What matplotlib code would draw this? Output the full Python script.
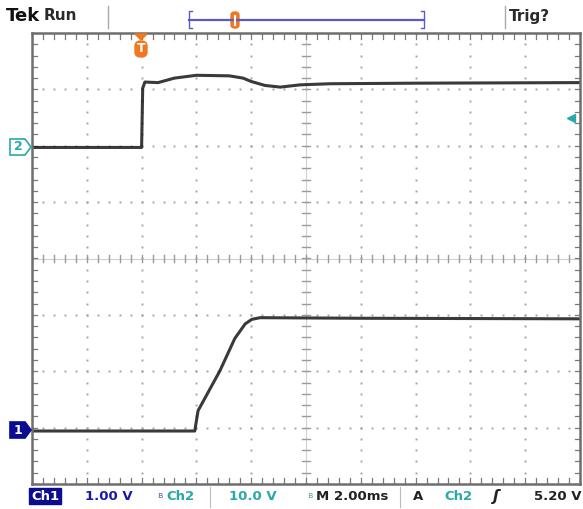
import numpy as np
import matplotlib.pyplot as plt
from matplotlib.patches import Polygon, FancyBboxPatch

# Tektronix の画面 (横 10 div, 縦 8 div, 2.00ms/div)
W, H = 583, 509

# Ch2 (10.0 V/div) : 位置は div 単位 (中央 = 0)
ch2_t = [0.0, 2.0, 2.02, 2.06, 2.3, 2.6, 3.0, 3.6, 3.85, 4.0, 4.25, 4.53, 4.89, 5.44, 7.0, 10.0]
ch2_v = [1.97, 1.97, 3.02, 3.13, 3.12, 3.2, 3.25, 3.24, 3.2, 3.14, 3.07, 3.04, 3.08, 3.1, 3.11, 3.12]

# Ch1 (1.00 V/div)
ch1_t = [0.0, 2.97, 3.03, 3.16, 3.43, 3.70, 3.89, 4.01, 4.16, 6.0, 10.0]
ch1_v = [-3.06, -3.06, -2.70, -2.47, -1.99, -1.42, -1.16, -1.08, -1.05, -1.06, -1.07]

ch1_color = '#0c0c90'
ch2_color = '#2aa8a8'
trig_color = '#f07820'
grat_color = '#a4a4a4'


def fx(x):
    return x / W


def fy(y):
    return 1 - y / H


fig = plt.figure(figsize=(W / 100, H / 100), dpi=100)
fig.patch.set_facecolor('white')

# 画面の範囲 (ピクセル)
left, right, top, bottom = 32, 580, 33, 484
ax = fig.add_axes([fx(left), fy(bottom), (right - left) / W, (bottom - top) / H])
ax.set_xlim(0, 10)
ax.set_ylim(-4, 4)
ax.set_xticks([])
ax.set_yticks([])
for s in ax.spines.values():
    s.set_color('#6e6e6e')
    s.set_linewidth(1.8)

# 目盛り (点線のグリッド)
minor = np.arange(0, 10.01, 0.2)
for yy in [-3, -2, -1, 1, 2, 3]:
    ax.plot(minor, np.full_like(minor, yy), ls='none', marker='s', ms=1.4, mew=0,
            color=grat_color)
minor_y = np.arange(-4, 4.01, 0.2)
for xx in [1, 2, 3, 4, 6, 7, 8, 9]:
    ax.plot(np.full_like(minor_y, xx), minor_y, ls='none', marker='s', ms=1.4, mew=0,
            color=grat_color)

# 中央の十字
ax.axhline(0, color='#d0d0d0', lw=0.8)
ax.axvline(5, color='#d0d0d0', lw=0.8)
for xx in minor:
    ax.plot([xx, xx], [-0.07, 0.07], color='#9a9a9a', lw=1.0)
for yy in minor_y:
    ax.plot([4.93, 5.07], [yy, yy], color='#9a9a9a', lw=1.0)

# 枠の内側の目盛り
for xx in minor:
    ax.plot([xx, xx], [-4, -3.9], color='#7a7a7a', lw=0.9)
    ax.plot([xx, xx], [4, 3.9], color='#7a7a7a', lw=0.9)
for yy in minor_y:
    ax.plot([0, 0.09], [yy, yy], color='#7a7a7a', lw=0.9)
    ax.plot([10, 9.91], [yy, yy], color='#7a7a7a', lw=0.9)

# 波形
ax.plot(ch2_t, ch2_v, color='#1e1e1e', lw=2.2, alpha=0.88, solid_joinstyle='round')
ax.plot(ch1_t, ch1_v, color='#1e1e1e', lw=2.2, alpha=0.88, solid_joinstyle='round')

# トリガレベル (Ch2 5.20 V)
trig_level = ch2_v[0] + 5.20 / 10.0
ax.plot([9.83], [trig_level], marker='<', ms=6, color=ch2_color, clip_on=False)

# 左のチャンネルマーカー
def ch_marker(y, label, face, edge, tcol):
    pts = [(10, y - 8), (25, y - 8), (31, y), (25, y + 8), (10, y + 8)]
    fig.patches.append(Polygon([(fx(a), fy(b)) for a, b in pts], closed=True,
                               transform=fig.transFigure, facecolor=face,
                               edgecolor=edge, lw=1.2))
    fig.text(fx(18), fy(y), label, color=tcol, fontsize=9, fontweight='bold',
             ha='center', va='center')


ch_marker(147, '2', 'white', ch2_color, ch2_color)
ch_marker(430, '1', ch1_color, ch1_color, 'white')

# トリガ位置マーカー
fig.patches.append(Polygon([(fx(135), fy(34)), (fx(147), fy(34)), (fx(141), fy(40))],
                           closed=True, transform=fig.transFigure, color=trig_color))
fig.patches.append(FancyBboxPatch((fx(135), fy(57)), fx(12), 16 / H,
                                  boxstyle='round,pad=0,rounding_size=0.01',
                                  transform=fig.transFigure, color=trig_color))
fig.text(fx(141), fy(49), 'T', color='white', fontsize=9, fontweight='bold',
         ha='center', va='center')

# 上のバー
fig.text(fx(6), fy(16), 'Tek', fontsize=13, fontweight='bold', va='center',
         color='#111111')
fig.text(fx(44), fy(16), 'Run', fontsize=11, fontweight='bold', va='center',
         color='#2a2a2a')
fig.text(fx(509), fy(16), 'Trig?', fontsize=11, fontweight='bold', va='center',
         color='#2a2a2a')
for xs in [108, 505]:
    fig.add_artist(plt.Line2D([fx(xs), fx(xs)], [fy(6), fy(28)], color='#aaaaaa', lw=1))
fig.add_artist(plt.Line2D([fx(189), fx(424)], [fy(20), fy(20)], color='#5a5ac8', lw=1.6))
for xs, d in [(189, 3), (424, -3)]:
    fig.add_artist(plt.Line2D([fx(xs + d), fx(xs), fx(xs), fx(xs + d)],
                              [fy(11), fy(11), fy(28), fy(28)], color='#5a5ac8', lw=1))
fig.patches.append(FancyBboxPatch((fx(231), fy(28)), fx(8), 16 / H,
                                  boxstyle='round,pad=0,rounding_size=0.006',
                                  transform=fig.transFigure, color=trig_color))
fig.add_artist(plt.Line2D([fx(235), fx(235)], [fy(16), fy(25)], color='white', lw=1.5))

# 下のバー
yb = 496
fs = 9.5
fig.patches.append(FancyBboxPatch((fx(29), fy(504)), fx(32), 16 / H,
                                  boxstyle='square,pad=0', transform=fig.transFigure,
                                  color=ch1_color))
fig.text(fx(45), fy(yb), 'Ch1', color='white', fontsize=fs, fontweight='bold',
         ha='center', va='center')
fig.text(fx(85), fy(yb), '1.00 V', color='#1a1aa8', fontsize=fs, fontweight='bold',
         va='center')
fig.text(fx(160), fy(yb), 'ʙ', color='#6a6ab8', fontsize=6.5, ha='center', va='center')
fig.text(fx(166), fy(yb), 'Ch2', color=ch2_color, fontsize=fs, fontweight='bold',
         va='center')
fig.text(fx(229), fy(yb), '10.0 V', color=ch2_color, fontsize=fs, fontweight='bold',
         va='center')
fig.text(fx(310), fy(yb), 'ʙ', color='#6aa8a8', fontsize=6.5, ha='center', va='center')
fig.text(fx(316), fy(yb), 'M', color='#222222', fontsize=fs, fontweight='bold', va='center')
fig.text(fx(334), fy(yb), '2.00ms', color='#222222', fontsize=fs, fontweight='bold',
         va='center')
fig.text(fx(413), fy(yb), 'A', color='#222222', fontsize=fs, fontweight='bold', va='center')
fig.text(fx(444), fy(yb), 'Ch2', color=ch2_color, fontsize=fs, fontweight='bold',
         va='center')
fig.text(fx(496), fy(yb), 'ʃ', color='#222222', fontsize=11, fontstyle='italic',
         fontweight='bold', ha='center', va='center')
fig.text(fx(582), fy(yb), '5.20 V', color='#222222', fontsize=fs, fontweight='bold',
         ha='right', va='center')
for xs in [210, 400]:
    fig.add_artist(plt.Line2D([fx(xs), fx(xs)], [fy(487), fy(507)], color='#bbbbbb', lw=0.8))

fig.savefig('out.png', dpi=100)
